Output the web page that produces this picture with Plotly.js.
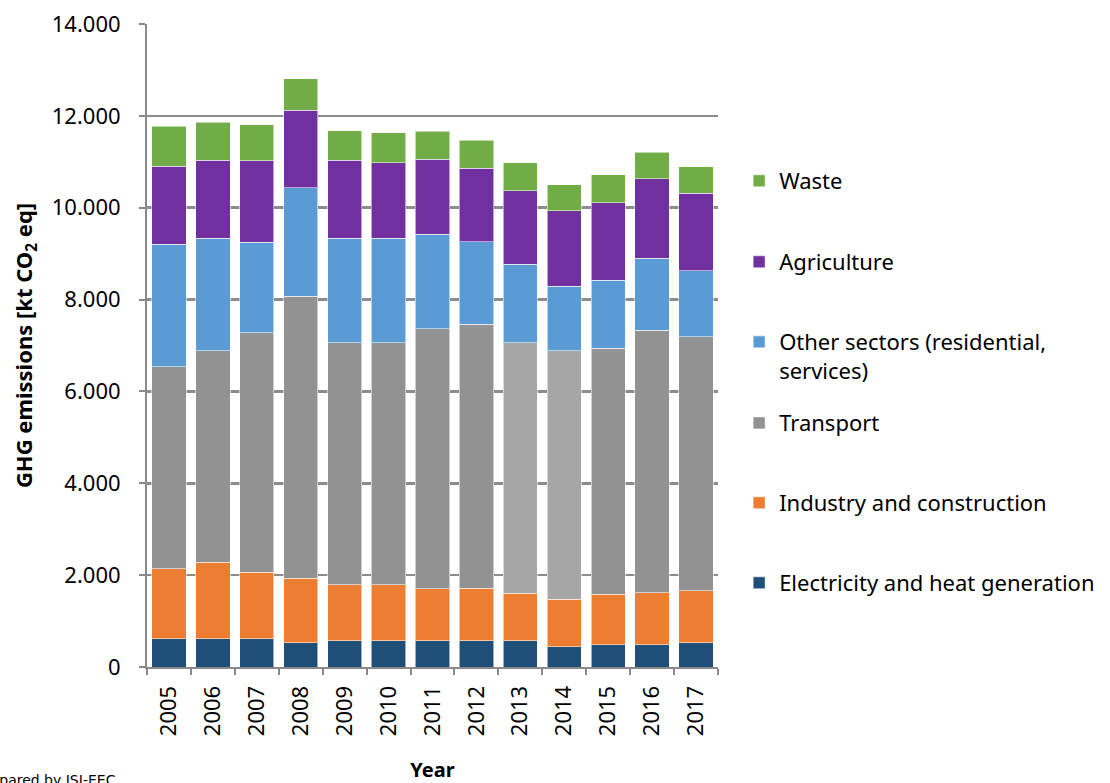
<!DOCTYPE html>
<html>
<head>
<meta charset="utf-8">
<script src="https://cdn.plot.ly/plotly-3.0.1.min.js"></script>
<style>html,body{margin:0;padding:0;background:#fff;}#chart{width:1110px;height:783px;}</style>
</head>
<body>
<div id="chart"></div>
<script>
var years = ["2005","2006","2007","2008","2009","2010","2011","2012","2013","2014","2015","2016","2017"];
var electricity = [620, 620, 620, 530, 570, 570, 570, 570, 570, 440, 490, 490, 530];
var industry    = [1520, 1660, 1440, 1400, 1220, 1220, 1130, 1140, 1040, 1040, 1090, 1130, 1130];
var transport   = [4400, 4610, 5220, 6140, 5270, 5270, 5660, 5750, 5450, 5410, 5360, 5710, 5530];
var otherSectors= [2670, 2450, 1970, 2360, 2280, 2280, 2060, 1800, 1710, 1400, 1480, 1570, 1440];
var agriculture = [1690, 1690, 1770, 1690, 1690, 1640, 1640, 1600, 1600, 1640, 1690, 1730, 1690];
var waste       = [870, 830, 790, 690, 650, 650, 610, 610, 610, 570, 610, 580, 570];
var seriesNames = ["Electricity and heat generation","Industry and construction","Transport","Other sectors (residential,<br>services)","Agriculture","Waste"];
var yTickVals = [0, 2000, 4000, 6000, 8000, 10000, 12000, 14000];
var yTickText = ["0","2.000","4.000","6.000","8.000","10.000","12.000","14.000"];

var transportColors = years.map(function(y){ return (y === "2013" || y === "2014") ? "#a6a6a6" : "#929292"; });
var colors = ["#1f4e79", "#ed7d31", transportColors, "#5b9bd5", "#7030a0", "#70ad47"];
var data = [electricity, industry, transport, otherSectors, agriculture, waste];
var legendIds = ["legend6", "legend5", "legend4", "legend3", "legend2", "legend"];
var legendY = [0.1633, 0.2877, 0.412, 0.538, 0.6625, 0.7885];

var traces = data.map(function(vals, i){
  return {
    type: "bar",
    name: seriesNames[i],
    x: years,
    y: vals,
    legend: legendIds[i],
    marker: {color: colors[i], line: {color: "rgba(255,255,255,0.55)", width: 1}},
    hoverinfo: "x+y+name"
  };
});

var font = "Noto Sans, Open Sans, sans-serif";
var layout = {
  width: 1110, height: 783,
  margin: {l: 147, r: 392, t: 24, b: 116, autoexpand: false},
  paper_bgcolor: "#ffffff", plot_bgcolor: "#ffffff",
  barmode: "stack",
  bargap: 0.22,
  showlegend: true,
  xaxis: {
    type: "category",
    tickson: "boundaries",
    ticks: "outside", ticklen: 6, tickcolor: "#898989", tickwidth: 2,
    showline: true, linecolor: "#898989", linewidth: 2,
    showgrid: false,
    tickangle: -90,
    ticklabelstandoff: 8,
    tickfont: {family: font, size: 22, color: "#000"},
    title: {text: "<b>Year</b>", font: {family: font, size: 20, color: "#000"}, standoff: 28}
  },
  yaxis: {
    range: [0, 14000],
    tickvals: yTickVals, ticktext: yTickText,
    ticks: "outside", ticklen: 6, tickcolor: "#898989", tickwidth: 2,
    showline: true, linecolor: "#898989", linewidth: 2,
    showgrid: true, gridcolor: "#8c8c8c", gridwidth: 2.5,
    zeroline: false,
    ticklabelstandoff: 14,
    tickfont: {family: font, size: 22, color: "#000"},
    title: {text: "<b>GHG emissions [kt CO<sub>2</sub> eq]</b>", font: {family: font, size: 22, color: "#000"}, standoff: 13}
  },
  annotations: [{
    text: "Prepared by JSI-EEC",
    xref: "paper", yref: "paper",
    x: 0, xanchor: "right", xshift: -29,
    y: 0, yanchor: "top", yshift: -103,
    showarrow: false,
    font: {family: "DejaVu Sans, sans-serif", size: 14, color: "#000"}
  }]
};

legendIds.forEach(function(id, i){
  layout[id] = {
    x: 1.037, xanchor: "left", y: legendY[i], yanchor: "top",
    valign: "top",
    bgcolor: "rgba(0,0,0,0)",
    font: {family: font, size: 22, color: "#000"},
    itemwidth: 30
  };
});

Plotly.newPlot("chart", traces, layout, {displayModeBar: false, staticPlot: true});
</script>
</body>
</html>
